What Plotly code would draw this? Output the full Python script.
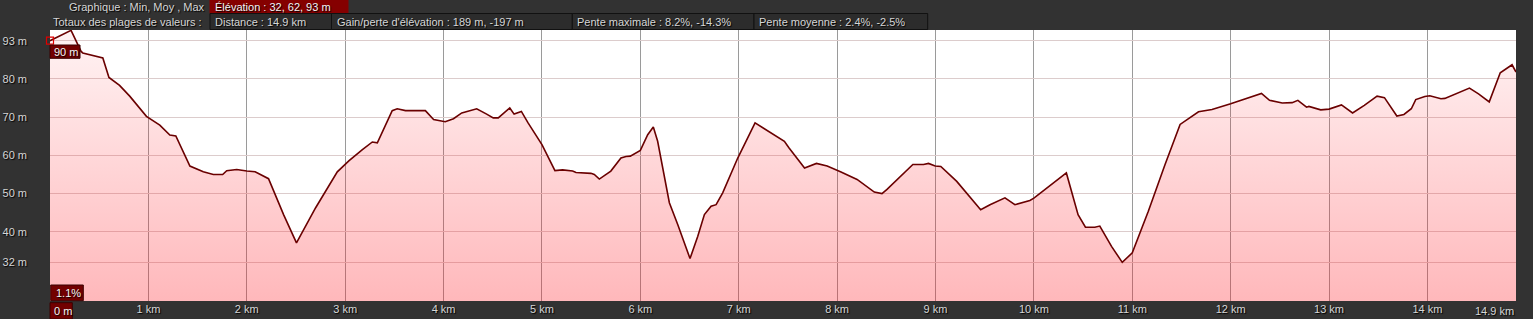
import plotly.graph_objects as go

# ---- data ----
dist_km = [
    0.0, 0.214, 0.316, 0.333, 0.537, 0.599, 0.707, 0.81, 0.98, 1.116, 1.218, 1.279,
    1.422, 1.558, 1.66, 1.755, 1.796, 1.898, 2.0, 2.085, 2.221, 2.374, 2.505, 2.70,
    2.92, 3.04, 3.175, 3.276, 3.327, 3.478, 3.529, 3.613, 3.815, 3.899, 4.017, 4.101,
    4.185, 4.337, 4.438, 4.505, 4.556, 4.673, 4.717, 4.791, 4.859, 4.943, 5.0, 5.132,
    5.21, 5.312, 5.346, 5.498, 5.532, 5.583, 5.70, 5.803, 5.854, 5.898, 6.0, 6.075,
    6.132, 6.176, 6.227, 6.295, 6.38, 6.447, 6.505, 6.583, 6.651, 6.719, 6.77, 6.837,
    6.99, 7.166, 7.363, 7.464, 7.51, 7.669, 7.79, 7.899, 8.034, 8.203, 8.378, 8.456,
    8.507, 8.709, 8.77, 8.878, 8.929, 8.997, 9.054, 9.216, 9.459, 9.554, 9.706, 9.807,
    9.959, 10.0, 10.33, 10.449, 10.524, 10.619, 10.67, 10.789, 10.898, 11.0, 11.163, 11.333,
    11.486, 11.673, 11.81, 12.0, 12.218, 12.313, 12.395, 12.524, 12.625, 12.683, 12.771, 12.795,
    12.915, 13.0, 13.126, 13.239, 13.358, 13.488, 13.563, 13.689, 13.761, 13.836, 13.881, 13.973,
    14.024, 14.137, 14.177, 14.246, 14.427, 14.519, 14.628, 14.74, 14.86, 14.9,
]
elev_m = [
    90.0, 92.7, 87.2, 86.8, 85.5, 80.4, 78.3, 75.5, 70.2, 67.9, 65.3, 65.1,
    57.2, 55.7, 55.0, 55.0, 56.0, 56.3, 55.9, 55.7, 53.9, 44.5, 37.1, 46.3,
    55.7, 58.6, 61.5, 63.5, 63.3, 71.7, 72.2, 71.7, 71.7, 69.4, 68.8, 69.6,
    71.1, 72.2, 70.8, 69.8, 69.8, 72.4, 70.8, 71.5, 68.5, 65.3, 62.8, 56.0,
    56.2, 55.9, 55.5, 55.3, 55.0, 53.8, 55.9, 59.3, 59.7, 59.8, 61.3, 65.4,
    67.4, 63.7, 56.7, 47.6, 41.9, 37.1, 33.0, 38.8, 44.5, 46.7, 47.1, 50.2,
    59.3, 68.5, 65.4, 63.7, 62.0, 56.7, 57.9, 57.2, 55.7, 53.7, 50.4, 50.0,
    51.1, 55.9, 57.6, 57.6, 57.9, 57.2, 57.1, 53.2, 45.8, 47.1, 48.9, 47.1,
    48.2, 48.8, 55.4, 44.5, 41.2, 41.2, 41.5, 36.2, 32.0, 34.5, 45.4, 57.6,
    68.1, 71.4, 72.0, 73.5, 75.5, 76.2, 74.4, 73.7, 73.8, 74.4, 72.6, 72.8,
    71.9, 72.1, 73.2, 71.1, 73.1, 75.5, 75.1, 70.3, 70.7, 72.2, 74.6, 75.4,
    75.6, 74.8, 74.9, 75.6, 77.6, 76.1, 74.0, 81.6, 83.7, 81.8,
]

x_tick_vals = list(range(1, 15))
x_tick_text = [f"{k} km" for k in x_tick_vals]
y_tick_vals = [32, 40, 50, 60, 70, 80, 90]
y_tick_text = ["32 m", "40 m", "50 m", "60 m", "70 m", "80 m", "93 m"]

header_main = "Graphique : Min, Moy , Max"
header_elev = "Élévation : 32, 62, 93 m"
totals_label = "Totaux des plages de valeurs :"
totals_boxes = [
    "Distance : 14.9 km",
    "Gain/perte d'élévation : 189 m, -197 m",
    "Pente maximale : 8.2%, -14.3%",
    "Pente moyenne : 2.4%, -2.5%",
]
start_label = "90 m"
slope_label = "1.1%"
x_start_label = "0 m"
x_end_label = "14.9 km"

# ---- layout geometry (pixels) ----
W, H = 1533, 319
PL, PR, PT, PB = 50, 1516, 30, 301
Y_RANGE = [21.9, 92.8]
FONT = "Liberation Sans"
FS = 11
TXT = "#d6d6d6"
DARKRED = "#720000"
SHADOW = "1px 1px 1px #000000"


def xp(px):
    return (px - PL) / (PR - PL)


def yp(py):
    return (PB - py) / (PB - PT)


fig = go.Figure()

fig.add_trace(go.Scatter(
    x=dist_km, y=elev_m, mode="lines",
    line=dict(color="#6a0000", width=1.6),
    fill="tozeroy",
    fillgradient=dict(
        type="vertical",
        colorscale=[[0, "rgba(255,25,35,0.31)"], [1, "rgba(255,25,35,0.05)"]],
        start=Y_RANGE[0], stop=Y_RANGE[1],
    ),
    hoverinfo="skip", showlegend=False,
))

fig.add_trace(go.Scatter(
    x=dist_km[:1], y=elev_m[:1], mode="markers",
    marker=dict(symbol="square-open", size=7, color="#e00000", line=dict(width=1.2)),
    cliponaxis=False, hoverinfo="skip", showlegend=False,
))

shapes = []
annotations = []


def box(x0, y0, x1, y1, fill, line="#111111"):
    shapes.append(dict(type="rect", xref="paper", yref="paper",
                       x0=xp(x0), x1=xp(x1), y0=yp(y1), y1=yp(y0),
                       fillcolor=fill, line=dict(color=line, width=1), layer="above"))


def text(t, px, py, anchor="left", color=TXT, size=FS):
    annotations.append(dict(text=t, xref="paper", yref="paper", x=xp(px), y=yp(py),
                            xanchor=anchor, yanchor="middle", showarrow=False,
                            font=dict(family=FONT, size=size, color=color, shadow=SHADOW)))


# header row 1
box(210, 0, 348, 13.3, "#850000", line="#850000")
text(header_elev, 213, 6.8, color="#f4f4f4")
text(header_main, 207, 6.8, anchor="right")

# header row 2
edges = [210, 331.5, 572.3, 754, 927.7]
for i, t in enumerate(totals_boxes):
    box(edges[i], 13.5, edges[i + 1], 29.5, "#2c2c2c")
    text(t, edges[i] + 3, 21.8)
text(totals_label, 51, 21.8)

# in-plot labels
box(50, 45, 80, 58.3, DARKRED, line="#3a0000")
text(start_label, 51.5, 51.8, color="#f4f4f4")
box(50.7, 285, 83.3, 300.7, DARKRED, line="#3a0000")
text(slope_label, 54, 293, color="#f4f4f4")

# x-axis end labels
box(50, 302.7, 72.3, 319, DARKRED, line="#3a0000")
text(x_start_label, 51.5, 311, color="#f4f4f4")
text(x_end_label, 1516, 310.5, anchor="right")

fig.update_layout(
    width=W, height=H,
    margin=dict(l=PL, r=W - PR, t=PT, b=H - PB, pad=0),
    paper_bgcolor="#323232",
    plot_bgcolor="#ffffff",
    font=dict(family=FONT, size=FS, color=TXT),
    shapes=shapes,
    annotations=annotations,
    xaxis=dict(
        range=[0, 14.9], tickvals=x_tick_vals, ticktext=x_tick_text,
        showgrid=True, gridcolor="#9a9a9a", gridwidth=1,
        zeroline=False, showline=False, ticks="", automargin=False,
        tickfont=dict(family=FONT, size=FS, color=TXT, shadow=SHADOW),
        ticklabelstandoff=0,
    ),
    yaxis=dict(
        range=Y_RANGE, tickvals=y_tick_vals, ticktext=y_tick_text,
        showgrid=True, gridcolor="#dccccc", gridwidth=1,
        zeroline=False, showline=False, ticks="", automargin=False,
        tickfont=dict(family=FONT, size=FS, color=TXT, shadow=SHADOW),
        ticklabelstandoff=22,
    ),
)

fig.write_html("out.html")
